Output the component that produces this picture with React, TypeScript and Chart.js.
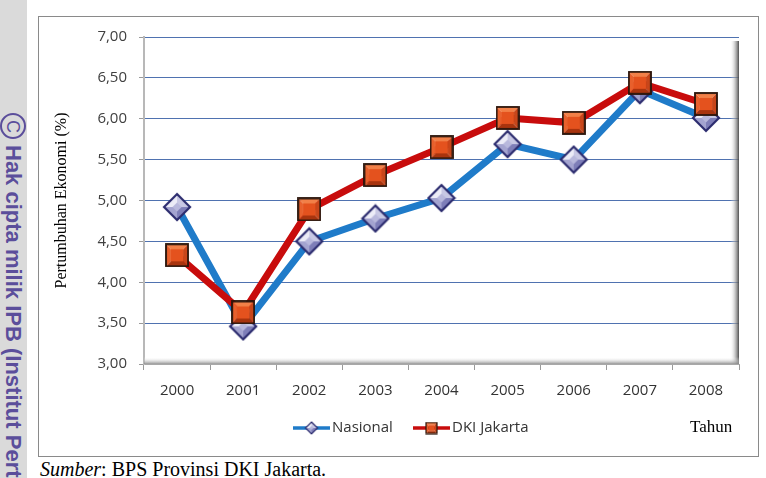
import React, { useEffect, useRef } from 'react';
import { Chart, registerables } from 'chart.js';

Chart.register(...registerables);

const years = ['2000', '2001', '2002', '2003', '2004', '2005', '2006', '2007', '2008'];
const nasional = [4.92, 3.46, 4.5, 4.78, 5.03, 5.69, 5.5, 6.35, 6.01];
const dkiJakarta = [4.33, 3.63, 4.89, 5.31, 5.65, 6.01, 5.95, 6.44, 6.18];
const yMin = 3;
const yMax = 7;
const yStep = 0.5;
const seriesNames = ['Nasional', 'DKI Jakarta'];
const yTitle = 'Pertumbuhan Ekonomi (%)';
const xTitle = 'Tahun';
const caption = ': BPS Provinsi DKI Jakarta.';
const captionItalic = 'Sumber';
const watermark = 'Hak cipta milik IPB (Institut Pertanian Bogor)';

const BLUE = '#1f7bc9';
const RED = '#c80c0c';

function makeDiamond(r: number): HTMLCanvasElement {
  const s = Math.ceil(r * 2 + 4);
  const c = document.createElement('canvas');
  c.width = s;
  c.height = s;
  const g = c.getContext('2d')!;
  const m = s / 2;
  const T = [m, m - r], R = [m + r, m], B = [m, m + r], L = [m - r, m];
  const tri = (a: number[], b: number[], col: string) => {
    g.beginPath();
    g.moveTo(a[0], a[1]);
    g.lineTo(b[0], b[1]);
    g.lineTo(m, m);
    g.closePath();
    g.fillStyle = col;
    g.fill();
  };
  tri(L, T, '#ececf7');
  tri(T, R, '#c8c8e4');
  tri(R, B, '#7e7eb8');
  tri(B, L, '#a4a4d0');
  const k = r * 0.35;
  g.beginPath();
  g.moveTo(m, m - k);
  g.lineTo(m + k, m);
  g.lineTo(m, m + k);
  g.lineTo(m - k, m);
  g.closePath();
  g.fillStyle = '#b8b8dc';
  g.fill();
  g.beginPath();
  g.moveTo(T[0], T[1]);
  g.lineTo(R[0], R[1]);
  g.lineTo(B[0], B[1]);
  g.lineTo(L[0], L[1]);
  g.closePath();
  g.lineWidth = Math.max(1.2, r / 6);
  g.strokeStyle = '#2b2b6e';
  g.stroke();
  return c;
}

function makeSquare(h: number): HTMLCanvasElement {
  const s = Math.ceil(h * 2 + 2);
  const c = document.createElement('canvas');
  c.width = s;
  c.height = s;
  const g = c.getContext('2d')!;
  const m = s / 2;
  const x0 = m - h, x1 = m + h, y0 = m - h, y1 = m + h;
  const b = h * 0.45;
  const poly = (pts: number[][], col: string) => {
    g.beginPath();
    g.moveTo(pts[0][0], pts[0][1]);
    for (let i = 1; i < pts.length; i++) g.lineTo(pts[i][0], pts[i][1]);
    g.closePath();
    g.fillStyle = col;
    g.fill();
  };
  poly([[x0, y0], [x1, y0], [x1 - b, y0 + b], [x0 + b, y0 + b]], '#f28048');
  poly([[x0, y0], [x0 + b, y0 + b], [x0 + b, y1 - b], [x0, y1]], '#e8602c');
  poly([[x1, y0], [x1, y1], [x1 - b, y1 - b], [x1 - b, y0 + b]], '#c8461a');
  poly([[x0, y1], [x0 + b, y1 - b], [x1 - b, y1 - b], [x1, y1]], '#a8340e');
  poly([[x0 + b, y0 + b], [x1 - b, y0 + b], [x1 - b, y1 - b], [x0 + b, y1 - b]], '#e4521e');
  g.lineWidth = Math.max(1.2, h / 6);
  g.strokeStyle = '#2a140a';
  g.strokeRect(x0, y0, 2 * h, 2 * h);
  return c;
}

export default function App() {
  const ref = useRef<HTMLCanvasElement | null>(null);

  useEffect(() => {
    if (!ref.current) return;
    const diamond = makeDiamond(13);
    const square = makeSquare(11);
    const diamondSmall = makeDiamond(6);
    const squareSmall = makeSquare(5.5);

    const shadowPlugin = {
      id: 'shadow3d',
      beforeDatasetsDraw(chart: any) {
        const { ctx, chartArea } = chart;
        const { left, right, top, bottom } = chartArea;
        ctx.save();
        let g = ctx.createLinearGradient(right - 9, 0, right, 0);
        g.addColorStop(0, 'rgba(255,255,255,0)');
        g.addColorStop(0.5, 'rgba(175,175,175,0.55)');
        g.addColorStop(1, 'rgba(70,70,70,0.95)');
        ctx.fillStyle = g;
        ctx.fillRect(right - 9, top + 4, 9, bottom - top - 4);
        g = ctx.createLinearGradient(0, bottom - 7, 0, bottom);
        g.addColorStop(0, 'rgba(255,255,255,0)');
        g.addColorStop(1, 'rgba(140,140,140,0.9)');
        ctx.fillStyle = g;
        ctx.fillRect(left, bottom - 7, right - left, 7);
        ctx.restore();
      },
    };

    const legendPlugin = {
      id: 'customLegend',
      afterDraw(chart: any) {
        const { ctx } = chart;
        const y = 412;
        const items = [
          { x: 255, text: seriesNames[0], color: BLUE, img: diamondSmall },
          { x: 375, text: seriesNames[1], color: RED, img: squareSmall },
        ];
        ctx.save();
        for (const it of items) {
          ctx.strokeStyle = it.color;
          ctx.lineWidth = 3.5;
          ctx.beginPath();
          ctx.moveTo(it.x, y);
          ctx.lineTo(it.x + 37, y);
          ctx.stroke();
          ctx.drawImage(it.img, it.x + 18.5 - it.img.width / 2, y - it.img.height / 2);
          ctx.fillStyle = '#333333';
          ctx.font = '15px "Open Sans"';
          ctx.textBaseline = 'middle';
          ctx.textAlign = 'left';
          ctx.fillText(it.text, it.x + 39, y);
        }
        ctx.fillStyle = '#000000';
        ctx.font = '17px "Liberation Serif"';
        ctx.fillText(xTitle, 652, y);
        ctx.restore();
      },
    };

    const tickFont = { family: 'Open Sans', size: 15 };

    const chart = new Chart(ref.current, {
      type: 'line',
      data: {
        labels: years,
        datasets: [
          {
            label: seriesNames[0],
            data: nasional,
            borderColor: BLUE,
            backgroundColor: BLUE,
            borderWidth: 7,
            pointStyle: diamond as any,
            pointRadius: 12,
            tension: 0,
            fill: false,
            order: 1,
          },
          {
            label: seriesNames[1],
            data: dkiJakarta,
            borderColor: RED,
            backgroundColor: RED,
            borderWidth: 7,
            pointStyle: square as any,
            pointRadius: 12,
            tension: 0,
            fill: false,
            order: 0,
          },
        ],
      },
      options: {
        responsive: false,
        animation: false,
        devicePixelRatio: 1,
        layout: { padding: { top: 18, right: 18, left: 0, bottom: 0 } },
        plugins: {
          legend: { display: false },
          tooltip: { enabled: false },
        },
        scales: {
          x: {
            type: 'category',
            offset: true,
            grid: {
              offset: true,
              drawOnChartArea: false,
              tickColor: '#9a9a9a',
              tickLength: 6,
            },
            border: { display: true, color: '#a8a8a8', width: 1 },
            ticks: { color: '#333333', font: tickFont, padding: 12, maxRotation: 0 },
            afterFit: (s: any) => {
              s.height = 92;
            },
          },
          y: {
            min: yMin,
            max: yMax,
            ticks: {
              stepSize: yStep,
              color: '#404040',
              font: tickFont,
              padding: 12,
              callback: (v: any) => Number(v).toFixed(2).replace('.', ','),
            },
            grid: {
              color: (c: any) => (c.tick && c.tick.value === yMin ? 'rgba(0,0,0,0)' : '#4f72b0'),
              tickColor: '#9a9a9a',
              tickLength: 5,
              lineWidth: 1,
            },
            border: { display: true, color: '#b8b8b8', width: 2 },
            title: {
              display: true,
              text: yTitle,
              color: '#000000',
              font: { family: 'Liberation Serif', size: 16 },
              padding: { top: 14, bottom: 0 },
            },
            afterFit: (s: any) => {
              s.width = 106;
            },
          },
        },
      },
      plugins: [shadowPlugin, legendPlugin],
    } as any);
    return () => chart.destroy();
  }, []);

  return (
    <div
      style={{
        position: 'absolute',
        left: 0,
        top: 0,
        width: 766,
        height: 478,
        overflow: 'hidden',
        background: '#ffffff',
      }}
    >
      <div
        style={{
          position: 'absolute',
          left: 0,
          top: 0,
          width: 27,
          height: 478,
          background: '#dadada',
        }}
      />
      <div
        style={{
          position: 'absolute',
          left: 0,
          top: 113,
          width: 27,
          writingMode: 'vertical-rl',
          lineHeight: '27px',
          fontFamily: '"Liberation Sans", Arial, sans-serif',
          fontWeight: 'bold',
          fontSize: 22,
          color: '#5b4e9b',
          whiteSpace: 'nowrap',
        }}
      >
        <span
          style={{
            display: 'inline-block',
            width: 22,
            height: 22,
            border: '2.5px solid #5b4e9b',
            borderRadius: '50%',
            textAlign: 'center',
            lineHeight: '22px',
            fontSize: 18,
            fontWeight: 'normal',
            marginBottom: 6,
            boxSizing: 'content-box',
          }}
        >
          C
        </span>
        {watermark}
      </div>
      <div
        style={{
          position: 'absolute',
          left: 38,
          top: 16,
          width: 719,
          height: 439,
          border: '1px solid #8a8a8a',
        }}
      />
      <canvas
        ref={ref}
        width={720}
        height={440}
        style={{ position: 'absolute', left: 38, top: 16, width: 720, height: 440 }}
      />
      <div
        style={{
          position: 'absolute',
          left: 40,
          top: 459,
          fontFamily: '"Liberation Serif", "Times New Roman", serif',
          fontSize: 20,
          lineHeight: '20px',
          color: '#000000',
          whiteSpace: 'nowrap',
        }}
      >
        <i>{captionItalic}</i>
        {caption}
      </div>
    </div>
  );
}
